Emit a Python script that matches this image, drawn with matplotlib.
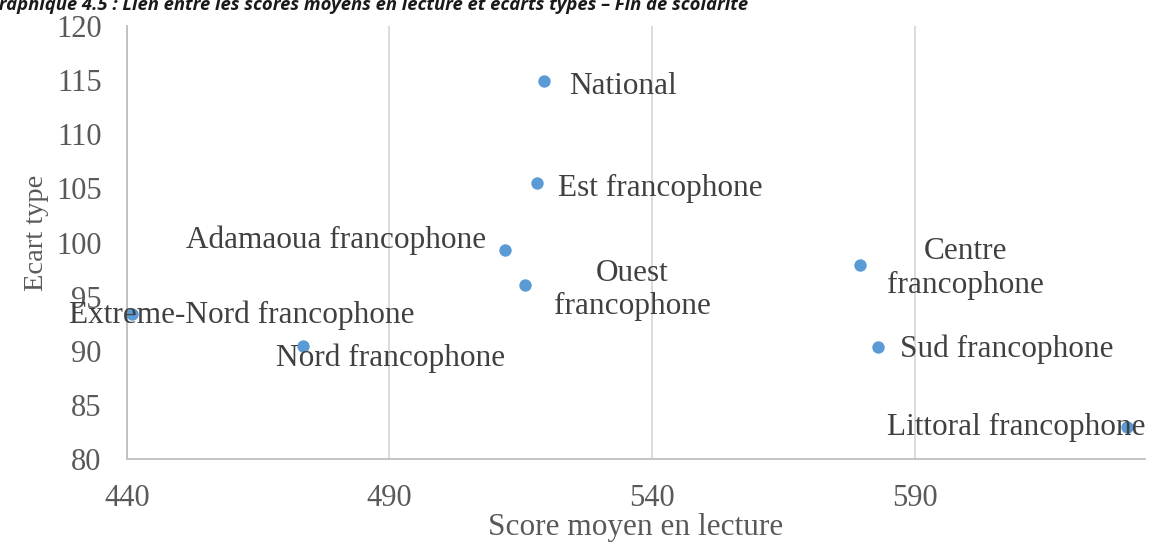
import matplotlib.pyplot as plt

# data
regions = ["National", "Est francophone", "Adamaoua francophone", "Ouest\nfrancophone",
           "Extreme-Nord francophone", "Nord francophone", "Centre\nfrancophone",
           "Sud francophone", "Littoral francophone"]
scores = [519.5, 518.0, 512.0, 515.8, 441.0, 473.6, 579.6, 582.9, 630.3]
ecarts = [114.9, 105.5, 99.3, 96.1, 93.4, 90.5, 97.9, 90.4, 83.0]

# label offsets in pixels (dx, dy) and alignment
label_pos = [(25, -5, "left"), (21, -5, "left"), (-19, 10, "right"), (107, -5, "center"),
             (110, -1, "center"), (87, -13, "center"), (105, -3, "center"),
             (22, -3, "left"), (-110, -1, "center")]

plt.rcParams["font.family"] = ["Liberation Serif", "DejaVu Serif"]
gray = "#595959"

fig = plt.figure(figsize=(11.69, 5.47), dpi=100)
ax = fig.add_axes([0.1084, 0.1603, 0.8711, 0.7922])

ax.scatter(scores, ecarts, s=80, color="#5b9bd5", zorder=3, linewidths=0)

for name, x, y, (dx, dy, ha) in zip(regions, scores, ecarts, label_pos):
    ax.annotate(name, (x, y), xytext=(dx, dy), textcoords="offset pixels",
                ha=ha, va="center", fontsize=22.5, color="#404040",
                linespacing=1.2, multialignment="center")

ax.set_xlim(440, 633.8)
ax.set_ylim(80, 120)
ax.set_xticks([440, 490, 540, 590])
ax.set_yticks(range(80, 121, 5))
ax.grid(axis="x", color="#d9d9d9", linewidth=1.3)
ax.set_axisbelow(True)
for s in ["top", "right"]:
    ax.spines[s].set_visible(False)
for s in ["left", "bottom"]:
    ax.spines[s].set_color("#bfbfbf")
    ax.spines[s].set_linewidth(1.3)
ax.tick_params(length=0, labelsize=22, labelcolor=gray, pad=18)
ax.set_xlabel("Score moyen en lecture", fontsize=22.5, color=gray, labelpad=0)
ax.set_ylabel("Ecart type", fontsize=20.5, color=gray, labelpad=5)
ax.yaxis.label.set_y(0.522)

fig.text(-0.012, 1.008, "Graphique 4.5 : Lien entre les scores moyens en lecture et écarts types – Fin de scolarité",
         fontsize=13.3, fontweight="bold", fontstyle="italic", family="Open Sans",
         color="#1a1a1a", va="top", ha="left")

fig.savefig("out.png", dpi=100)
